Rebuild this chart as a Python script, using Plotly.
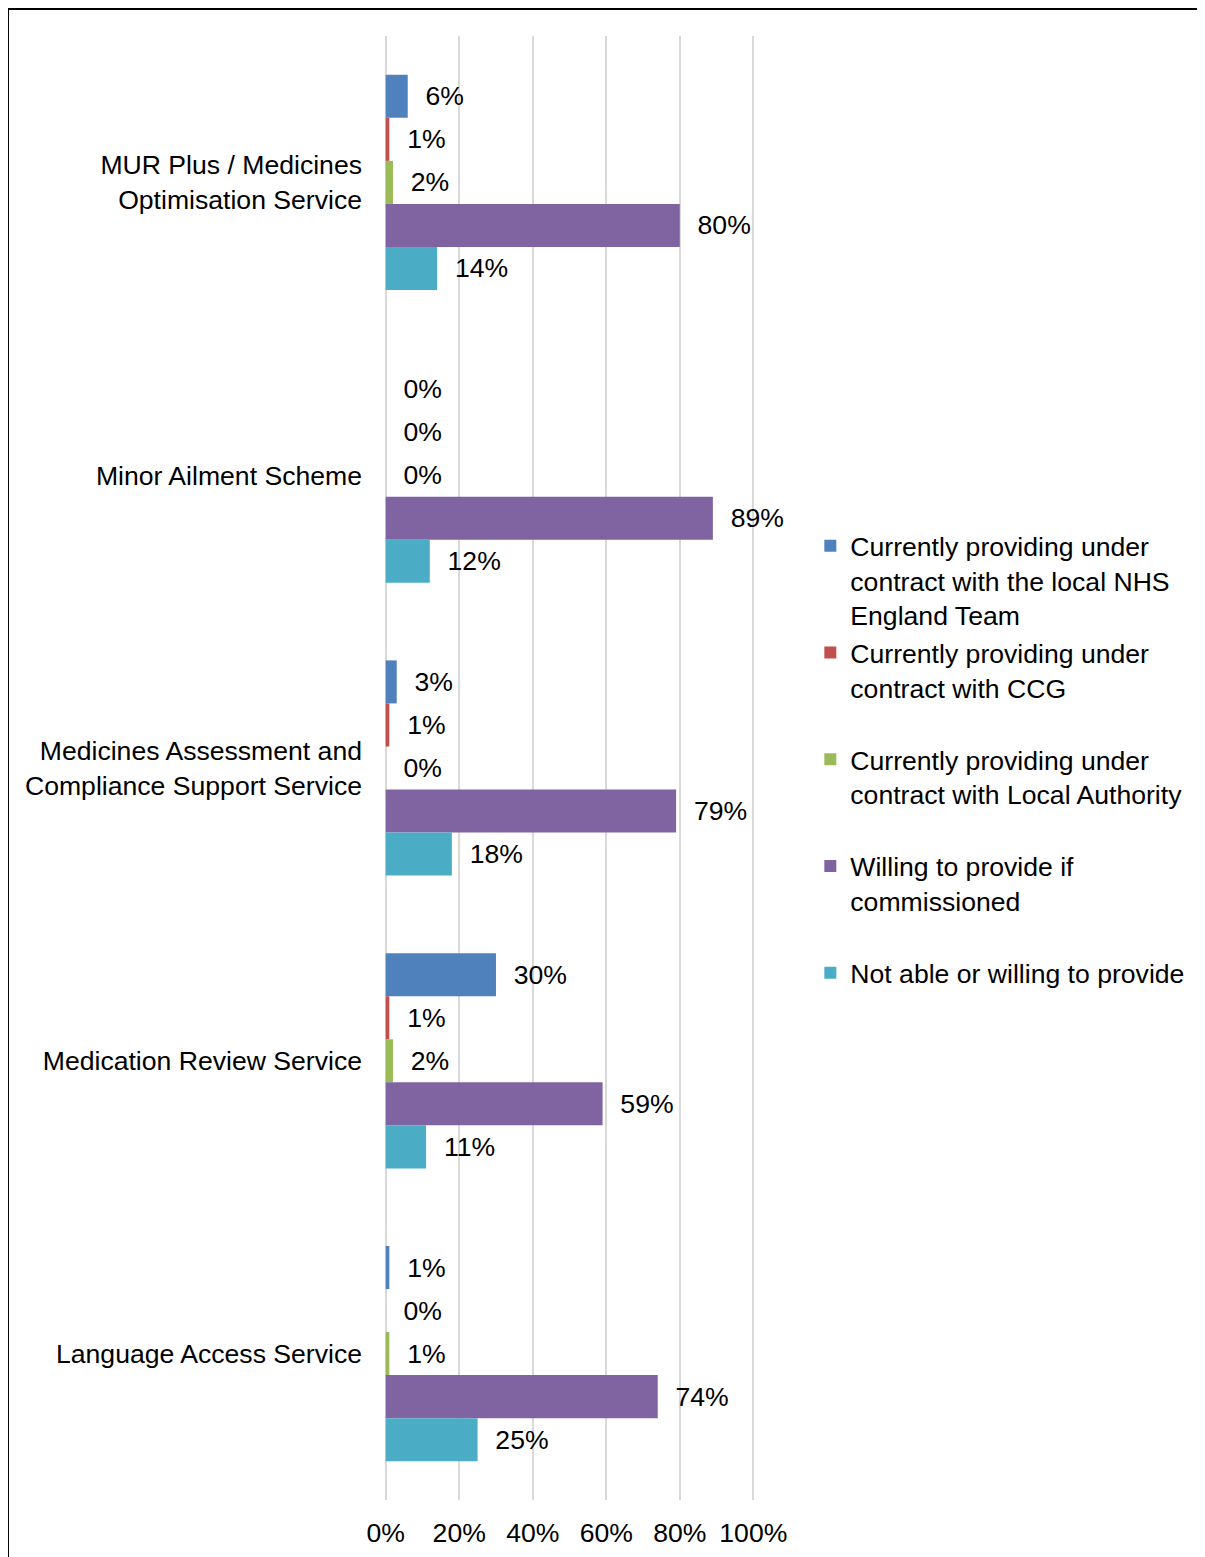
import plotly.graph_objects as go

categories = [
    "MUR Plus / Medicines<br>Optimisation Service",
    "Minor Ailment Scheme",
    "Medicines Assessment and<br>Compliance Support Service",
    "Medication Review Service",
    "Language Access Service",
]

series_names = [
    "Currently providing under<br>contract with the local NHS<br>England Team",
    "Currently providing under<br>contract with CCG<br> ",
    "Currently providing under<br>contract with Local Authority<br> ",
    "Willing to provide if<br>commissioned<br> ",
    "Not able or willing to provide",
]

nhs_england = [0.06, 0.00, 0.03, 0.30, 0.01]
ccg = [0.01, 0.00, 0.01, 0.01, 0.00]
local_authority = [0.02, 0.00, 0.00, 0.02, 0.01]
willing = [0.80, 0.89, 0.79, 0.59, 0.74]
not_able = [0.14, 0.12, 0.18, 0.11, 0.25]

series_values = [nhs_england, ccg, local_authority, willing, not_able]
colors = ["#4F81BD", "#C0504D", "#9BBB59", "#8064A2", "#4BACC6"]

tick_vals = [0, 0.2, 0.4, 0.6, 0.8, 1.0]
tick_text = ["0%", "20%", "40%", "60%", "80%", "100%"]

FONT = "Arial, Liberation Sans, sans-serif"
FS = 26.6

fig = go.Figure()
for name, vals, col in zip(series_names, series_values, colors):
    fig.add_trace(go.Bar(
        y=categories, x=vals, name=name, orientation="h",
        marker=dict(color=col, line=dict(width=0)),
        texttemplate="\u00a0\u00a0%{x:.0%}", textposition="outside",
        textfont=dict(family=FONT, size=FS, color="#000000"),
        cliponaxis=False, constraintext="none",
    ))

# plot area: x 0..1 -> page px 386..753, y page px 36..1500 (body margin 8px)
fig.update_layout(
    width=1197, height=1557,
    paper_bgcolor="white", plot_bgcolor="white",
    margin=dict(l=374.33, r=448.33, t=28, b=65, autoexpand=False),
    barmode="group", bargap=0.265, bargroupgap=0,
    font=dict(family=FONT, size=FS, color="#000000"),
    showlegend=True,
    legend=dict(
        x=1.1422, y=0.668, xanchor="left", yanchor="top",
        valign="top", itemwidth=30,
        font=dict(family=FONT, size=FS, color="#000000"),
        bgcolor="rgba(0,0,0,0)", tracegroupgap=0,
    ),
    xaxis=dict(
        range=[-0.01, 1.01], tickvals=tick_vals, ticktext=tick_text,
        showgrid=True, gridcolor="#D9D9D9", gridwidth=2,
        zeroline=False, showline=False, ticks="",
        ticklabelstandoff=14, automargin=False,
        tickfont=dict(family=FONT, size=FS, color="#000000"),
        fixedrange=True,
    ),
    yaxis=dict(
        autorange="reversed", showgrid=False, zeroline=False,
        showline=False, ticks="", ticklabelstandoff=19, automargin=False,
        tickfont=dict(family=FONT, size=FS, color="#000000"),
    ),
    shapes=[dict(
        type="rect", xref="paper", yref="paper",
        x0=-0.9987, x1=2.2377, y0=-0.0546, y1=1.0188,
        line=dict(color="#000000", width=3), fillcolor="rgba(0,0,0,0)",
        layer="above",
    )],
)

fig.write_html("out.html")
